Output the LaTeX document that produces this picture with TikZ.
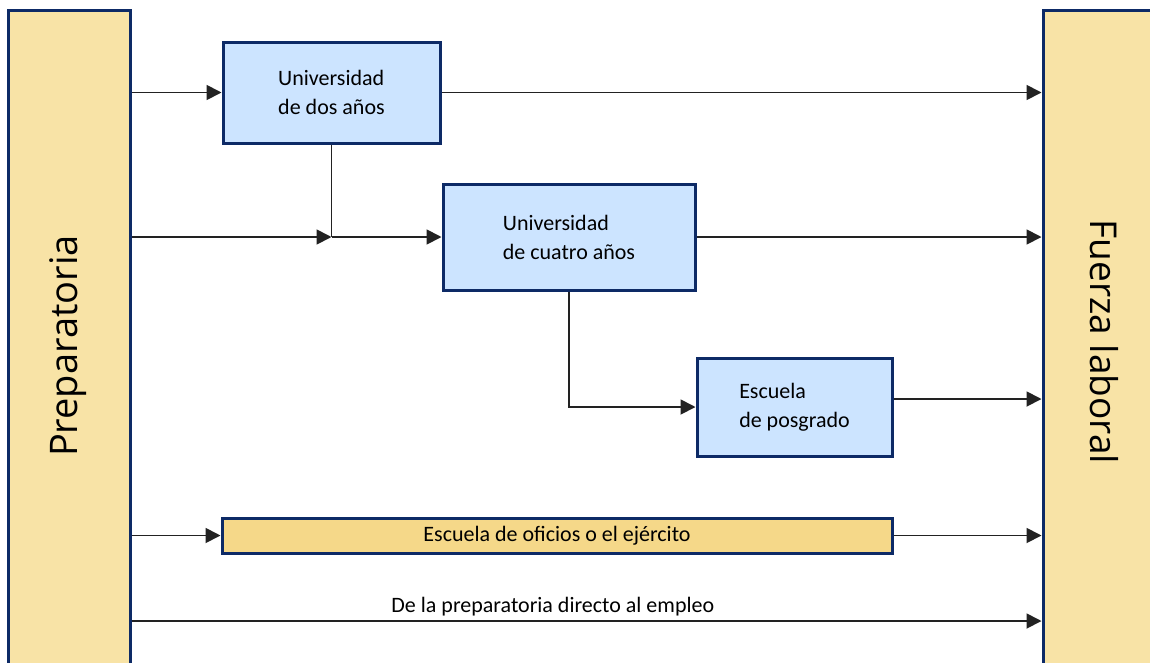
\documentclass[tikz,border=0pt]{standalone}
\usepackage{fontspec}
\setmainfont{Carlito}
\newfontfamily\bigfont{Open Sans}
\usetikzlibrary{arrows.meta, positioning}

\definecolor{tan}{HTML}{F8E3A6}
\definecolor{tandark}{HTML}{F5D889}
\definecolor{paleblue}{HTML}{CCE4FF}
\definecolor{navy}{HTML}{0D2A66}
\definecolor{linegray}{HTML}{222222}

\begin{document}
\begin{tikzpicture}[x=1pt, y=-1pt,
                    sidebar/.style={rectangle, draw=navy, fill=tan, line width=3pt},
                    school/.style={rectangle, draw=navy, fill=paleblue, line width=3pt,
                                   align=left, font=\fontsize{22}{29}\selectfont},
                    trade/.style={rectangle, draw=navy, fill=tandark, line width=3pt,
                                  font=\fontsize{22}{26}\selectfont},
                    arr/.style={draw=linegray, line width=1.8pt,
                                -{Triangle[length=15pt, width=15pt]}}]
                    \useasboundingbox (0,0) rectangle (1150,662);

                    % the two side bars
                    \node (prep) [sidebar, minimum width=122pt, minimum height=660pt] at (69,340) {};
                    \node (labor) [sidebar, minimum width=117pt, minimum height=660pt] at (1101.5,340) {};
                    \node (preptxt) [rotate=90, font=\bigfont\fontsize{38}{38}\selectfont] at (68,346) {Preparatoria};
                    \node (labortxt) [rotate=-90, font=\bigfont\fontsize{37}{37}\selectfont] at (1104,342) {Fuerza laboral};

                    % the schools
                    \node (dos) [school, minimum width=217pt, minimum height=101pt] at (331.5,92.5)
                        {Universidad\\de dos años};
                    \node (cuatro) [school, minimum width=252pt, minimum height=106pt] at (569,237)
                        {Universidad\\de cuatro años};
                    \node (posgrado) [school, minimum width=195pt, minimum height=98pt] at (794.5,407)
                        {Escuela\\de posgrado};
                    \node (oficios) [trade, minimum width=670pt, minimum height=35pt] at (557,535.5)
                        {Escuela de oficios o el ejército};
                    \coordinate (join) at (dos.south |- cuatro.west);
                    \coordinate (posout) at ([yshift=8pt]posgrado.east);
                    \coordinate (direct) at (0,621);

                    % into the schools
                    \draw[arr] (prep.east |- dos.west) -- (dos.west);
                    \draw[arr] (prep.east |- join) -- (join);
                    \draw[draw=linegray, line width=1.8pt] (dos.south) -- (join);
                    \draw[arr] (join) -- (cuatro.west);
                    \draw[arr] (cuatro.south) |- (posgrado.west);
                    \draw[arr] (prep.east |- oficios.west) -- (oficios.west);

                    % out to the labor force
                    \draw[arr] (dos.east) -- (labor.west |- dos.east);
                    \draw[arr] (cuatro.east) -- (labor.west |- cuatro.east);
                    \draw[arr] (posout) -- (labor.west |- posout);
                    \draw[arr] (oficios.east) -- (labor.west |- oficios.east);
                    \draw[arr] (prep.east |- direct) -- (labor.west |- direct)
                        node[pos=0.463, above=1pt, font=\fontsize{22}{26}\selectfont] (directo)
                        {De la preparatoria directo al empleo};
\end{tikzpicture}
\end{document}
